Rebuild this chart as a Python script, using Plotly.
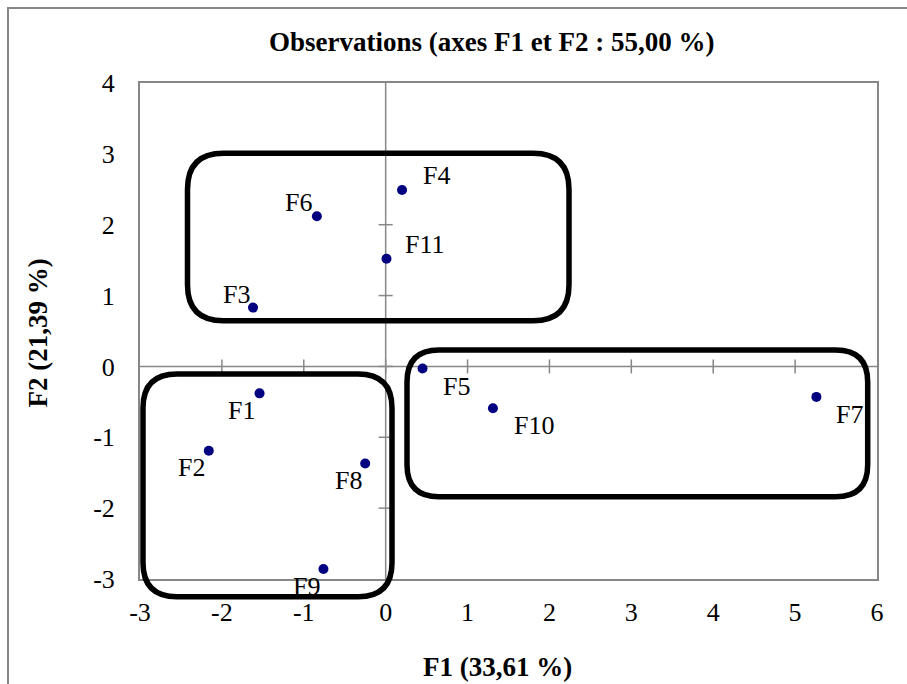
import plotly.graph_objects as go

# ---- data ----
labels = ["F1", "F2", "F3", "F4", "F5", "F6", "F7", "F8", "F9", "F10", "F11"]
f1 = [-1.54, -2.16, -1.62, 0.20, 0.45, -0.84, 5.26, -0.25, -0.76, 1.31, 0.01]
f2 = [-0.38, -1.19, 0.83, 2.49, -0.03, 2.12, -0.43, -1.37, -2.86, -0.59, 1.52]
x_ticks = [-3, -2, -1, 0, 1, 2, 3, 4, 5, 6]
y_ticks = [-3, -2, -1, 0, 1, 2, 3, 4]
title_text = "Observations (axes F1 et F2 : 55,00 %)"
x_title = "F1 (33,61 %)"
y_title = "F2 (21,39 %)"

# ---- style / layout ----
W, H = 907, 684
L, R, T, B = 140, 877, 83, 579
FONT = "Liberation Serif"
GRAY = "#878787"
TICK_SIZE = 26
LABEL_SIZE = 26
TITLE_SIZE = 27
# label offsets (pixels, dx right, dy down) for each point
label_off = {
    "F1": (-18, 17), "F2": (-17, 17), "F3": (-17, -13), "F4": (34, -14),
    "F5": (34, 18), "F6": (-18, -14), "F7": (33, 18), "F8": (-17, 17),
    "F9": (-17, 17), "F10": (41, 17), "F11": (39, -14),
}

def px2paper(x, y):
    return (x - L) / (R - L), (B - y) / (B - T)

def rounded(x0, y0, x1, y1, r):
    def p(x, y):
        a, b = px2paper(x, y)
        return f"{a:.5f},{b:.5f}"
    return (f"M {p(x0 + r, y0)} L {p(x1 - r, y0)} Q {p(x1, y0)} {p(x1, y0 + r)} "
            f"L {p(x1, y1 - r)} Q {p(x1, y1)} {p(x1 - r, y1)} "
            f"L {p(x0 + r, y1)} Q {p(x0, y1)} {p(x0, y1 - r)} "
            f"L {p(x0, y0 + r)} Q {p(x0, y0)} {p(x0 + r, y0)} Z")

fig = go.Figure()
fig.add_trace(go.Scatter(
    x=f1, y=f2, mode="markers",
    marker=dict(color="#000080", size=10),
    hoverinfo="text", text=labels, showlegend=False, cliponaxis=False,
))

annotations = []
for lab, xv, yv in zip(labels, f1, f2):
    dx, dy = label_off[lab]
    annotations.append(dict(x=xv, y=yv, xref="x", yref="y", text=lab, showarrow=False,
                            xanchor="center", yanchor="middle",
                            xshift=dx, yshift=-dy,
                            font=dict(family=FONT, size=LABEL_SIZE, color="black")))

def paper_ann(text, cx, cy, angle=0):
    px, py = px2paper(cx, cy)
    return dict(x=px, y=py, xref="paper", yref="paper", text=text, showarrow=False,
                xanchor="center", yanchor="middle", textangle=angle,
                font=dict(family=FONT, size=TITLE_SIZE, color="black"))

annotations.append(paper_ann(f"<b>{title_text}</b>", 491.5, 42))
annotations.append(paper_ann(f"<b>{x_title}</b>", 497, 667))
annotations.append(paper_ann(f"<b>{y_title}</b>", 37.5, 333, -90))

shapes = []
# outer chart frame
fx0, fy0 = px2paper(8, 8)
fx1, fy1 = px2paper(W + 20, H + 20)
shapes.append(dict(type="rect", xref="paper", yref="paper", x0=fx0, y0=fy1, x1=fx1, y1=fy0,
                   line=dict(color=GRAY, width=2), layer="below"))
# zero axis lines
shapes.append(dict(type="line", xref="x", yref="y", x0=x_ticks[0], x1=x_ticks[-1], y0=0, y1=0,
                   line=dict(color=GRAY, width=1.5), layer="below"))
shapes.append(dict(type="line", xref="x", yref="y", x0=0, x1=0, y0=y_ticks[0], y1=y_ticks[-1],
                   line=dict(color=GRAY, width=1.5), layer="below"))
# cross tick marks on zero lines
for xv in x_ticks[1:-1]:
    shapes.append(dict(type="line", xref="x", yref="y", x0=xv, x1=xv, ysizemode="pixel", yanchor=0,
                       y0=-7, y1=7, line=dict(color=GRAY, width=1.5), layer="below"))
for yv in y_ticks[1:-1]:
    shapes.append(dict(type="line", xref="x", yref="y", y0=yv, y1=yv, xsizemode="pixel", xanchor=0,
                       x0=-7, x1=7, line=dict(color=GRAY, width=1.5), layer="below"))
# rounded group boxes
for (a, b, c, d, r) in [(187.5, 153.3, 569, 320.7, 36),
                        (143, 374, 392, 596.7, 34),
                        (407, 350, 867.7, 496.7, 32)]:
    shapes.append(dict(type="path", xref="paper", yref="paper", path=rounded(a, b, c, d, r),
                       line=dict(color="black", width=5.5), fillcolor="rgba(0,0,0,0)", layer="above"))

fig.update_layout(
    width=W, height=H,
    margin=dict(l=L, r=W - R, t=T, b=H - B),
    paper_bgcolor="white", plot_bgcolor="white",
    font=dict(family=FONT, size=TICK_SIZE, color="black"),
    showlegend=False,
    xaxis=dict(range=[x_ticks[0], x_ticks[-1]], tickvals=x_ticks, ticktext=[str(v) for v in x_ticks],
               showgrid=False, zeroline=False, showline=True, mirror=True, linecolor=GRAY, linewidth=2,
               ticks="", ticklabelstandoff=9, tickfont=dict(family=FONT, size=TICK_SIZE, color="black")),
    yaxis=dict(range=[y_ticks[0], y_ticks[-1]], tickvals=y_ticks, ticktext=[str(v) for v in y_ticks],
               showgrid=False, zeroline=False, showline=True, mirror=True, linecolor=GRAY, linewidth=2,
               ticks="", ticklabelstandoff=18, tickfont=dict(family=FONT, size=TICK_SIZE, color="black")),
    annotations=annotations, shapes=shapes,
)

fig.write_html("out.html")
